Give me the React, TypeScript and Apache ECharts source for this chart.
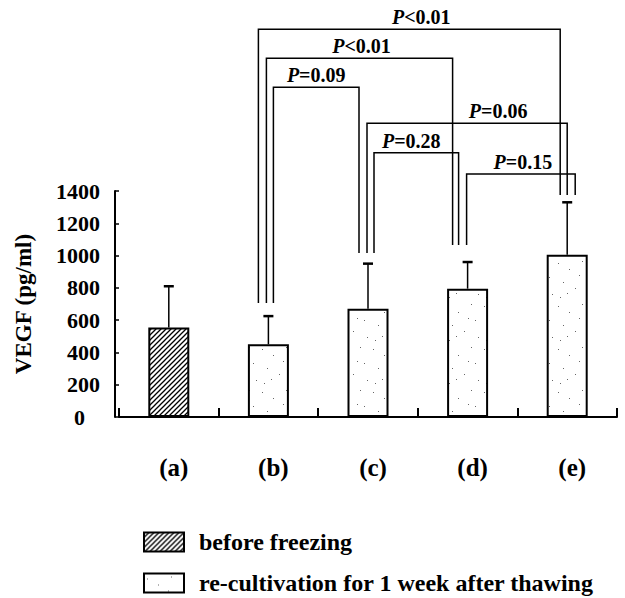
import React, { useEffect, useRef } from 'react';
import * as echarts from 'echarts';

// ---------- data ----------
const categories = ['(a)', '(b)', '(c)', '(d)', '(e)'];
const beforeFreezing: (number | null)[] = [555, null, null, null, null];
const recultivation: (number | null)[] = [null, 450, 670, 795, 1005];
const errorTop = [810, 625, 950, 960, 1330];
const yMin = 0;
const yMax = 1400;
const yInterval = 200;
const seriesNames = ['before freezing', 're-cultivation for 1 week after thawing'];

// significance brackets (category indices, bracket level in data units)
const bracketFrom = [1, 1, 1, 2, 2, 3];
const bracketTo = [4, 3, 2, 4, 3, 4];
const bracketLevel = [2402, 2222, 2042, 1819, 1637, 1505];
const bracketLabel = ['<0.01', '<0.01', '=0.09', '=0.06', '=0.28', '=0.15'];
// bottom of bracket legs per category (data units)
const legBottom: (number | null)[] = [null, 706, 1016, 1065, 1375];

// ---------- styling helpers ----------
const FONT = "'Liberation Serif', 'Times New Roman', serif";
const bracketFromDx = [-10, -2, 5, -1, 6, -1];
const bracketToDx = [-7, -15, -9, 0, -9, 8];
const bracketLabelDx = [12, 2, 0, 31, -5, 2];

function hatchPattern() {
  const s = 5;
  const c = document.createElement('canvas');
  c.width = s;
  c.height = s;
  const g = c.getContext('2d')!;
  g.fillStyle = '#fff';
  g.fillRect(0, 0, s, s);
  g.strokeStyle = '#000';
  g.lineWidth = 1.3;
  g.beginPath();
  g.moveTo(-1, s + 1); g.lineTo(s + 1, -1);
  g.moveTo(-2, 2); g.lineTo(2, -2);
  g.moveTo(s - 2, s + 2); g.lineTo(s + 2, s - 2);
  g.stroke();
  return { image: c.toDataURL(), repeat: 'repeat', imageWidth: s, imageHeight: s };
}

function dotPattern() {
  const w = 37, h = 43;
  const c = document.createElement('canvas');
  c.width = w;
  c.height = h;
  const g = c.getContext('2d')!;
  g.fillStyle = '#fff';
  g.fillRect(0, 0, w, h);
  const dots = [[3, 5], [14, 11], [27, 3], [31, 19], [8, 24], [20, 30], [34, 36], [5, 39], [24, 17], [12, 35]];
  g.fillStyle = '#666';
  dots.forEach(([x, y]) => g.fillRect(x, y, 1, 1));
  return { image: c.toDataURL(), repeat: 'repeat', imageWidth: w, imageHeight: h };
}

export default function App() {
  const ref = useRef<HTMLDivElement>(null);

  useEffect(() => {
    if (!ref.current) return;
    const chart = echarts.init(ref.current, null, { renderer: 'svg' });

    const barTops = categories.map((_, i) => (beforeFreezing[i] ?? recultivation[i]) as number);

    const legendBase = {
      orient: 'vertical',
      left: 143,
      padding: 0,
      itemWidth: 40,
      itemHeight: 19,
      icon: 'rect',
      selectedMode: false,
      textStyle: { fontFamily: FONT, fontWeight: 'bold', fontSize: 24, color: '#000', padding: [0, 0, 0, 10] },
    };

    const option: any = {
      animation: false,
      backgroundColor: '#fff',
      textStyle: { fontFamily: FONT, fontWeight: 'bold', color: '#000' },
      grid: { left: 119, right: 8, top: 191, bottom: 181, containLabel: false },
      legend: [
        { ...legendBase, top: 530, data: [seriesNames[0]] },
        { ...legendBase, top: 571, data: [seriesNames[1]] },
      ],
      xAxis: {
        type: 'category',
        data: categories,
        axisLine: { lineStyle: { color: '#000', width: 2 } },
        axisTick: { show: true, inside: true, length: 9, lineStyle: { color: '#000', width: 2 } },
        axisLabel: {
          margin: 38,
          fontFamily: FONT,
          fontWeight: 'bold',
          fontSize: 25,
          color: '#000',
          padding: [0, 0, 0, 10],
        },
      },
      yAxis: {
        type: 'value',
        min: yMin,
        max: yMax,
        interval: yInterval,
        offset: 4,
        name: 'VEGF (pg/ml)',
        nameLocation: 'middle',
        nameGap: 80,
        nameTextStyle: { fontFamily: FONT, fontWeight: 'bold', fontSize: 23, color: '#000' },
        axisLine: { show: true, lineStyle: { color: '#000', width: 2 } },
        axisTick: { show: true, inside: true, length: 4, lineStyle: { color: '#000', width: 1.5 } },
        splitLine: { show: false },
        axisLabel: {
          margin: 15,
          fontFamily: FONT,
          fontWeight: 'bold',
          fontSize: 22,
          color: '#000',
          formatter: (v: number) => (v === 0 ? '{z|0}' : String(v)),
          rich: {
            z: { fontFamily: FONT, fontWeight: 'bold', fontSize: 22, color: '#000', padding: [0, 15, 0, 0] },
          },
        },
      },
      series: [
        {
          name: seriesNames[0],
          type: 'bar',
          data: beforeFreezing,
          barWidth: 41,
          barGap: '-100%',
          itemStyle: { color: hatchPattern(), borderColor: '#000', borderWidth: 2 },
        },
        {
          name: seriesNames[1],
          type: 'bar',
          data: recultivation,
          barWidth: 41,
          barGap: '-100%',
          itemStyle: { color: dotPattern(), borderColor: '#000', borderWidth: 2 },
        },
        {
          name: 'error',
          type: 'custom',
          clip: false,
          silent: true,
          data: errorTop.map((e, i) => [i, barTops[i], e]),
          encode: { x: 0, y: 1 },
          renderItem: (params: any, api: any) => {
            const i = api.value(0);
            const p0 = api.coord([i, api.value(1)]);
            const p1 = api.coord([i, api.value(2)]);
            return {
              type: 'group',
              children: [
                { type: 'line', shape: { x1: p0[0], y1: p0[1], x2: p1[0], y2: p1[1] }, style: { stroke: '#000', lineWidth: 1.5 } },
                { type: 'line', shape: { x1: p1[0] - 5, y1: p1[1], x2: p1[0] + 5, y2: p1[1] }, style: { stroke: '#000', lineWidth: 2.5 } },
              ],
            };
          },
        },
        {
          name: 'brackets',
          type: 'custom',
          clip: false,
          silent: true,
          data: bracketLevel.map((l, k) => [bracketFrom[k], l, bracketTo[k]]),
          encode: { x: 0, y: 1 },
          renderItem: (params: any, api: any) => {
            const k = params.dataIndex;
            const f = bracketFrom[k];
            const t = bracketTo[k];
            const lv = bracketLevel[k];
            const pf = api.coord([f, legBottom[f] as number]);
            const pt = api.coord([t, legBottom[t] as number]);
            const pl = api.coord([f, lv]);
            const x1 = pf[0] + bracketFromDx[k];
            const x2 = pt[0] + bracketToDx[k];
            const y = pl[1];
            return {
              type: 'group',
              children: [
                {
                  type: 'polyline',
                  shape: { points: [[x1, pf[1]], [x1, y], [x2, y], [x2, pt[1]]] },
                  style: { stroke: '#000', fill: null, lineWidth: 1.5 },
                },
                {
                  type: 'text',
                  x: (x1 + x2) / 2 + bracketLabelDx[k],
                  y: y - 12,
                  style: {
                    text: '{i|P}{n|' + bracketLabel[k] + '}',
                    align: 'center',
                    verticalAlign: 'middle',
                    rich: {
                      i: { fontFamily: FONT, fontWeight: 'bold', fontStyle: 'italic', fontSize: 20, fill: '#000' },
                      n: { fontFamily: FONT, fontWeight: 'bold', fontSize: 20, fill: '#000' },
                    },
                  },
                },
              ],
            };
          },
        },
      ],
    };

    chart.setOption(option);
    return () => chart.dispose();
  }, []);

  return (
    <div
      ref={ref}
      style={{ position: 'fixed', left: 0, top: 0, width: 625, height: 598, background: '#fff' }}
    />
  );
}
